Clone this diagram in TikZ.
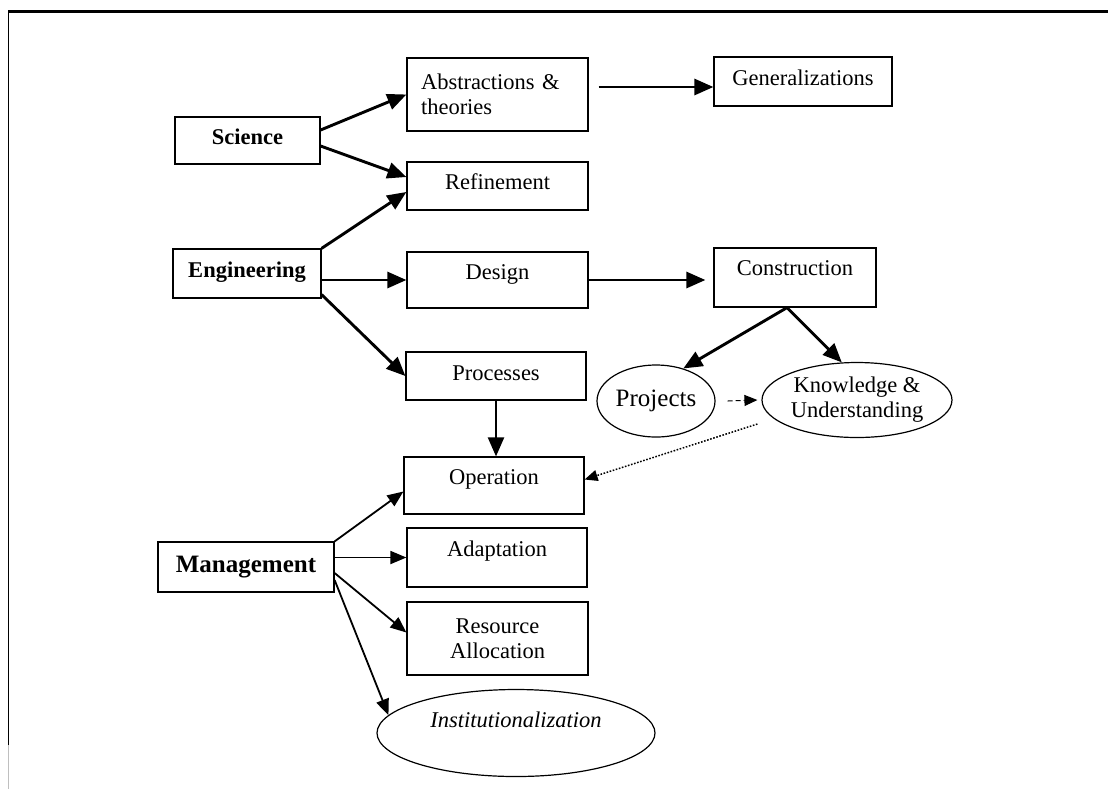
\documentclass[tikz,border=0pt]{standalone}
\usepackage{fontspec}
\setmainfont{Liberation Serif}
\usetikzlibrary{arrows.meta,shapes.geometric}

\begin{document}
\begin{tikzpicture}[x=0.5pt, y=-0.5pt,
  font=\fontsize{11.25}{12.5}\selectfont,
  box/.style={draw, line width=0.6pt, inner sep=0pt, align=center},
  lift/.style={text height=8pt, text depth=#1},
  oval/.style={draw, ellipse, line width=0.6pt, inner sep=0pt, align=center},
  big/.style={font=\fontsize{12.5}{14}\selectfont},
  heavy/.style={line width=1.45pt, -{Triangle[length=9.5pt, width=8pt]}},
  light/.style={line width=0.9pt, -{Triangle[length=8pt, width=6.5pt]}},
  faint/.style={line width=0.5pt, -{Triangle[length=6.5pt, width=5.5pt]}}]
\useasboundingbox (0,0) rectangle (1108,789);
\draw [line width=1.5pt] (8,11) -- (1108,11);
\draw [line width=0.9pt] (8.5,11) -- (8.5,745);
\draw [line width=0.5pt, black!25] (8.5,745) -- (8.5,789);
\node (sci) at (247.5,140.5) [box, lift=4.5pt, minimum width=72.5pt, minimum height=23.5pt] {\textbf{Science}};
\node (eng) at (247,273.5) [box, lift=4.5pt, minimum width=74pt, minimum height=24.5pt] {\textbf{Engineering}};
\node (mgmt) at (246,567) [box, big, lift=2.5pt, minimum width=88pt, minimum height=25pt] {\textbf{Management}};
\node (abs) at (497.5,94.5) [box, text width=76.5pt, align=left, minimum width=90.5pt, minimum height=36.5pt] {Abstractions \&\\theories};
\node (gen) at (803,81.5) [box, lift=4.5pt, minimum width=89pt, minimum height=24.5pt] {Generalizations};
\node (ref) at (497.5,186) [box, lift=5pt, minimum width=90.5pt, minimum height=24pt] {Refinement};
\node (des) at (497.5,280) [box, lift=9pt, minimum width=90.5pt, minimum height=28pt] {Design};
\node (con) at (795,277.5) [box, lift=10.5pt, minimum width=81pt, minimum height=29.5pt] {Construction};
\node (proc) at (496,376) [box, lift=4pt, minimum width=90pt, minimum height=24pt] {Processes};
\node (proj) at (656,401) [oval, big, minimum width=59pt, minimum height=36pt] {Projects};
\node (know) at (857,400) [oval, minimum width=95pt, minimum height=37.5pt] {Knowledge \&\\Understanding};
\node (op) at (494,485.5) [box, lift=9.5pt, minimum width=90pt, minimum height=28.5pt] {Operation};
\node (ada) at (497,557.5) [box, lift=9.5pt, minimum width=90pt, minimum height=29.5pt] {Adaptation};
\node (res) at (497.5,638.5) [box, minimum width=90.5pt, minimum height=36.5pt] {Resource\\Allocation};
\node (inst) at (516,733) [oval, lift=14pt, minimum width=139pt, minimum height=43.5pt] {\textit{Institutionalization}};
\draw [heavy] ([yshift=5.25pt]sci.east) -- (abs.west);
\draw [heavy] ([yshift=-2.75pt]sci.east) -- ([yshift=4.5pt]ref.west);
\draw [heavy] ([shift={(5pt,-2.75pt)}]abs.east |- gen.west) -- ([yshift=-2.75pt]gen.west);
\draw [heavy] (eng.north east) -- ([yshift=-3pt]ref.west);
\draw [heavy] (eng.east |- des.west) -- (des.west);
\draw [heavy] ([yshift=2pt]eng.south east) -- (proc.west);
\draw [heavy] (des.east) -- ([xshift=-4pt]con.west |- des.east);
\draw [heavy] ([xshift=-4pt]con.south) -- (proj.50);
\draw [heavy] ([xshift=-4pt]con.south) -- (know.112);
\draw [heavy, line width=1.1pt] (proc.south) -- (op.north -| proc.south);
\draw [faint, dash pattern=on 2.5pt off 1.5pt] ([xshift=6pt]proj.east) -- ([xshift=-2pt]know.west);
\draw [faint, line width=0.75pt, dash pattern=on 0.8pt off 0.8pt] ([shift={(-2pt,-12pt)}]know.west) -- ([yshift=3pt]op.east);
\draw [light] (mgmt.north east) -- ([yshift=-3pt]op.west);
\draw [light] (mgmt.east |- ada.west) -- (ada.west);
\draw [light] ([yshift=-3pt]mgmt.east) -- ([yshift=3pt]res.west);
\draw [light] ([yshift=-6.5pt]mgmt.east) -- (inst.172);
\end{tikzpicture}
\end{document}
